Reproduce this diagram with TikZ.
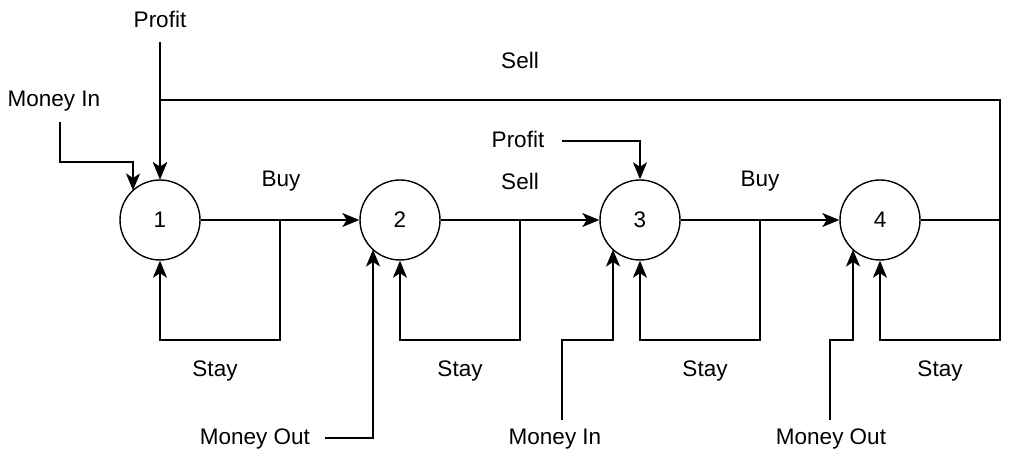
\documentclass[tikz,border=0pt]{standalone}
\usepackage{fontspec}
\setmainfont{Liberation Sans}
\usetikzlibrary{arrows.meta}
\begin{document}
\begin{tikzpicture}[x=1pt,y=-1pt,
  state/.style={circle,draw,line width=1.4pt,minimum size=80pt,inner sep=0pt,font=\fontsize{22.5}{26}\selectfont},
  lbl/.style={font=\fontsize{22.5}{26}\selectfont,inner sep=0pt},
  conn/.style={line width=1.4pt},
  arr/.style={conn,-{Stealth[length=17pt,width=14pt,inset=4.5pt]}}]
\useasboundingbox (0,0) rectangle (1018,462);
\node[state] (s1) at (160,220) {1};
\node[state] (s2) at (400,220) {2};
\node[state] (s3) at (640,220) {3};
\node[state] (s4) at (880,220) {4};
% labels
\node[lbl] (profit1) at (160,19) {Profit};
\node[lbl] (moneyin1) at (54,101) {Money In};
\node[lbl] (sellTop) at (520,60) {Sell};
\node[lbl] (buy1) at (281,181) {Buy};
\node[lbl] (sell2) at (520,181) {Sell};
\node[lbl] (buy3) at (760,181) {Buy};
\node[lbl] (profit3) at (518,139) {Profit};
\node[lbl] (stay1) at (215,371) {Stay};
\node[lbl] (stay2) at (460,371) {Stay};
\node[lbl] (stay3) at (705,371) {Stay};
\node[lbl] (stay4) at (940,371) {Stay};
\node[lbl] (moneyout2) at (255,439) {Money Out};
\node[lbl] (moneyin3) at (555,439) {Money In};
\node[lbl] (moneyout4) at (831,439) {Money Out};
% coordinates
\coordinate (b1) at (280,220);
\coordinate (b2) at (520,220);
\coordinate (b3) at (760,220);
\coordinate (b4) at (1000,220);
\coordinate (p1start) at (160,42);
\coordinate (mi1start) at (60,122);
\coordinate (mo2start) at (325,438);
\coordinate (p3start) at (562,141);
\coordinate (mi3start) at (562,420);
\coordinate (mo4start) at (830,420);
% transitions
\draw[arr] (s1.east) -- (s2.west);
\draw[arr] (s2.east) -- (s3.west);
\draw[arr] (s3.east) -- (s4.west);
\draw[conn] (s4.east) -- (b4);
% stay loops
\draw[arr] (b1) |- (160,340) -- (s1.south);
\draw[arr] (b2) |- (400,340) -- (s2.south);
\draw[arr] (b3) |- (640,340) -- (s3.south);
\draw[arr] (b4) |- (880,340) -- (s4.south);
% sell back
\draw[arr] (b4) |- (160,100) -- (s1.north);
\draw[arr] (p1start) -- (s1.north);
% money in 1
\draw[arr] (mi1start) |- (133,162) -- (133,190.5);
% money out 2
\draw[arr] (mo2start) -| (373,249.5);
% profit 3
\draw[arr] (p3start) -| (s3.north);
% money in 3
\draw[arr] (mi3start) |- (613,340) -- (613,249.5);
% money out 4
\draw[arr] (mo4start) |- (853,340) -- (853,249.5);
\end{tikzpicture}
\end{document}
